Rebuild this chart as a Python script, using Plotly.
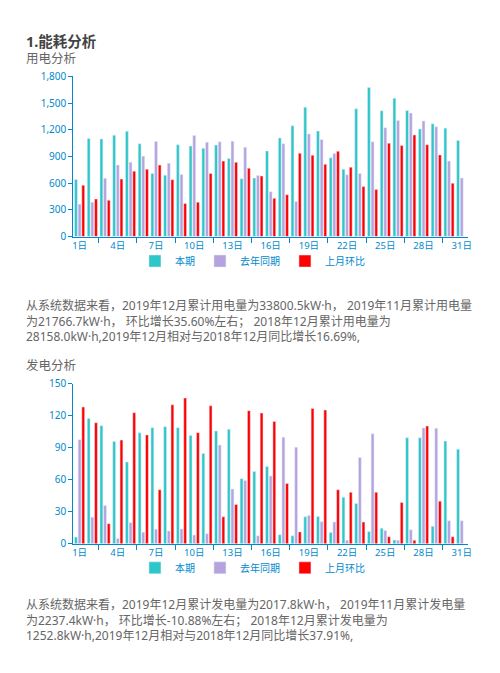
import plotly.graph_objects as go

# ---------------- data ----------------
days = list(range(1, 32))
tick_days = [1, 4, 7, 10, 13, 16, 19, 22, 25, 28, 31]
tick_labels = [f"{d}日" for d in tick_days]
series_names = ["本期", "去年同期", "上月环比"]

# 用电 (kW·h)
power_cur = [640, 1102, 1098, 1139, 1183, 1043, 709, 690, 1032, 1017, 992, 1028, 878, 650, 657,
             962, 1109, 1245, 1455, 1186, 885, 757, 1436, 1675, 1414, 1554, 1418, 1208, 1267, 1219, 1080]
power_last_year = [364, 386, 654, 804, 834, 904, 1069, 823, 698, 1135, 1061, 1065, 1072, 1003, 687,
                   503, 1043, 393, 1153, 1091, 933, 694, 709, 1065, 1223, 1304, 1388, 1300, 1234, 848, 657]
power_last_month = [577, 422, 408, 646, 735, 757, 804, 639, 371, 386, 709, 848, 834, 768, 680,
                    430, 470, 937, 915, 812, 959, 779, 562, 529, 1050, 1025, 1142, 1032, 918, 599, None]

# 发电 (kW·h)
gen_cur = [6.1, 117.2, 110.5, 95.8, 76.5, 103.8, 108.7, 109.6, 108.7, 101.3, 84.5, 105.6, 107.1, 60.9, 67.6,
           72.2, 8.3, 7.3, 25.1, 25.4, 10.4, 43.5, 37.7, 11.3, 14.4, 3.4, 99.2, 99.2, 16.2, 96.1, 88.5]
gen_last_year = [97.3, 24.8, 35.8, 4.9, 19.6, 10.7, 13.5, 11.9, 13.8, 8.0, 9.2, 92.4, 51.1, 59.1, 7.3,
                 63.4, 99.8, 90.3, 26.3, 20.5, 20.2, 3.1, 80.8, 102.9, 12.2, 3.1, 12.9, 108.4, 108.1, 21.4, 21.4]
gen_last_month = [128.0, 113.3, 18.7, 97.0, 122.7, 101.9, 50.5, 130.1, 136.5, 104.0, 129.2, 25.1, 36.7, 124.6, 122.4,
                  114.5, 56.3, 11.0, 126.7, 125.2, 50.5, 48.1, 20.2, 48.1, 6.4, 38.6, 3.1, 110.2, 39.8, 6.4, None]

para1 = ["从系统数据来看，2019年12月累计用电量为33800.5kW·h， 2019年11月累计用电量",
         "为21766.7kW·h， 环比增长35.60%左右； 2018年12月累计用电量为",
         "28158.0kW·h,2019年12月相对与2018年12月同比增长16.69%,"]
para2 = ["从系统数据来看，2019年12月累计发电量为2017.8kW·h， 2019年11月累计发电量",
         "为2237.4kW·h， 环比增长-10.88%左右； 2018年12月累计发电量为",
         "1252.8kW·h,2019年12月相对与2018年12月同比增长37.91%,"]

# ---------------- style ----------------
PAGE_W, PAGE_H = 500, 673
OFF = 8  # default body margin of the page
W, H = PAGE_W - 2 * OFF, PAGE_H - 2 * OFF
colors = ["#2ec7c9", "#b6a2de", "#ff0000"]
axis_color = "#008acd"
FONT = "Noto Sans, Noto Sans CJK SC, sans-serif"


def fx(x):
    return (x - OFF) / W


def fy(y):
    return 1 - (y - OFF) / H


fig = go.Figure()

for vals, name, col in zip([power_cur, power_last_year, power_last_month], series_names, colors):
    fig.add_trace(go.Bar(x=days, y=vals, name=name, marker_color=col, xaxis="x", yaxis="y",
                         legend="legend"))
for vals, name, col in zip([gen_cur, gen_last_year, gen_last_month], series_names, colors):
    fig.add_trace(go.Bar(x=days, y=vals, name=name, marker_color=col, xaxis="x2", yaxis="y2",
                         legend="legend2"))

boundary_ticks = [2.5, 5.5, 8.5, 11.5, 14.5, 17.5, 20.5, 23.5, 26.5, 29.5]
xdom = [fx(72.9), fx(471.9)]

xcommon = dict(range=[0.5, 31.5], tickmode="array", tickvals=tick_days, ticktext=tick_labels,
               ticks="", showline=True, linecolor=axis_color, linewidth=1, showgrid=False,
               zeroline=False, tickfont=dict(size=9.5, color=axis_color, family=FONT),
               minor=dict(tickmode="array", tickvals=boundary_ticks, ticks="outside", ticklen=5,
                          tickcolor=axis_color, showgrid=False),
               fixedrange=True, domain=xdom)
ycommon = dict(ticks="outside", ticklen=4, tickcolor=axis_color, showline=True, linecolor=axis_color,
               linewidth=1, showgrid=False, zeroline=False,
               tickfont=dict(size=10, color=axis_color, family=FONT), fixedrange=True)

annotations = [
    dict(text="<b>1.能耗分析</b>", x=fx(23), y=fy(34.5), font=dict(size=14.5, color="#444444")),
    dict(text="用电分析", x=fx(23), y=fy(52), font=dict(size=12.5, color="#666666")),
    dict(text="发电分析", x=fx(23), y=fy(366), font=dict(size=12.5, color="#666666")),
    dict(text="<br>".join(para1), x=fx(23), y=fy(320.5), font=dict(size=12, color="#666666"),
         align="left"),
    dict(text="<br>".join(para2), x=fx(23), y=fy(625.5), font=dict(size=12, color="#666666"),
         align="left"),
]
for a in annotations:
    a.update(xref="paper", yref="paper", xanchor="left", yanchor="middle", showarrow=False)
    a["font"]["family"] = FONT

legend_common = dict(orientation="h", xanchor="center", x=fx(254), yanchor="middle",
                     font=dict(size=10, color=axis_color, family=FONT), itemwidth=30,
                     bgcolor="rgba(0,0,0,0)", itemclick=False, itemdoubleclick=False)

fig.update_layout(
    width=W, height=H, margin=dict(l=0, r=0, t=0, b=0, pad=0),
    paper_bgcolor="#ffffff", plot_bgcolor="rgba(0,0,0,0)",
    font=dict(family=FONT),
    barmode="group", bargap=0.14, bargroupgap=0.22,
    xaxis=dict(anchor="y", **xcommon),
    yaxis=dict(anchor="x", domain=[fy(234), fy(70.7)], range=[0, 1800], dtick=300,
               tickformat=",", **ycommon),
    xaxis2=dict(anchor="y2", **xcommon),
    yaxis2=dict(anchor="x2", domain=[fy(547.3), fy(384)], range=[0, 150], dtick=30, **ycommon),
    legend=dict(y=fy(259), **legend_common),
    legend2=dict(y=fy(572), **legend_common),
    annotations=annotations,
)

fig.write_html("out.html", config={"displayModeBar": False})
